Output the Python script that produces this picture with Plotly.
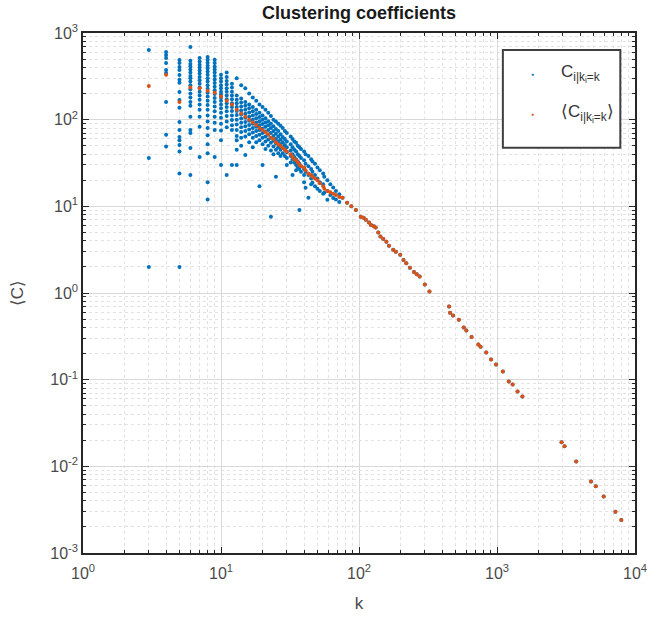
import plotly.graph_objects as go

# Per-node clustering values, grouped by degree k
blue_k = [
    3, 3, 3,
    4, 4, 4, 4, 4, 4, 4, 4, 4,
    5, 5, 5, 5, 5, 5, 5, 5, 5, 5, 5, 5, 5, 5, 5, 5, 5, 5,
    6, 6, 6, 6, 6, 6, 6, 6, 6, 6, 6, 6, 6, 6, 6, 6, 6, 6, 6, 6,
    7, 7, 7, 7, 7, 7, 7, 7, 7, 7, 7, 7, 7, 7, 7, 7, 7, 7,
    8, 8, 8, 8, 8, 8, 8, 8, 8, 8, 8, 8, 8, 8, 8, 8, 8, 8, 8, 8, 8, 8, 8, 8,
    9, 9, 9, 9, 9, 9, 9, 9, 9, 9, 9, 9, 9, 9, 9, 9, 9, 9, 9,
    10, 10, 10, 10, 10, 10, 10, 10, 10, 10, 10, 10, 10, 10, 10, 10, 10,
    11, 11, 11, 11, 11, 11, 11, 11, 11, 11, 11, 11, 11, 11, 11,
    12, 12, 12, 12, 12, 12, 12, 12, 12, 12, 12, 12, 12,
    13, 13, 13, 13, 13, 13, 13, 13, 13, 13, 13, 13, 13, 13,
    14, 14, 14, 14, 14, 14, 14, 14, 14, 14, 14, 14,
    15, 15, 15, 15, 15, 15, 15, 15, 15, 15, 15,
    16, 16, 16, 16, 16, 16, 16, 16, 16, 16,
    17, 17, 17, 17, 17, 17, 17, 17, 17, 17,
    18, 18, 18, 18, 18, 18, 18, 18, 18,
    19, 19, 19, 19, 19, 19, 19, 19, 19,
    20, 20, 20, 20, 20, 20, 20, 20, 20,
    21, 21, 21, 21, 21, 21, 21, 21,
    22, 22, 22, 22, 22, 22, 22,
    23, 23, 23, 23, 23, 23, 23, 23,
    24, 24, 24, 24, 24, 24, 24,
    25, 25, 25, 25, 25, 25, 25,
    26, 26, 26, 26, 26, 26,
    27, 27, 27, 27, 27, 27,
    28, 28, 28, 28, 28,
    29, 29, 29, 29, 29,
    30, 30, 30, 30, 30, 30,
    32, 32, 32, 32, 32,
    33, 33, 33, 33, 33,
    34, 34, 34, 34,
    35, 35, 35, 35, 35,
    36, 36, 36, 36,
    37, 37, 37, 37, 37,
    38, 38, 38, 38,
    40, 40, 40, 40, 40,
    41, 41, 41, 41,
    43, 43, 43, 43,
    45, 45, 45, 45,
    46, 46, 46,
    48, 48, 48,
    50, 50, 50,
    52, 52, 52,
    55, 55, 55,
    56, 56,
    59, 59, 59,
    62, 62,
    65, 65,
    68, 68,
    72, 72,
]
blue_c = [
    637, 36, 2,
    604, 559, 515, 451, 375, 346, 160, 67, 49,
    489, 451, 406, 375, 328, 288, 266, 209, 169, 137, 94, 76, 63, 58, 51, 43, 24, 2,
    690, 480, 440, 410, 380, 350, 320, 300, 275, 250, 225, 200, 180, 160, 145, 108, 76, 70, 47, 23,
    515, 470, 430, 400, 370, 340, 310, 285, 260, 235, 210, 190, 170, 150, 130, 108, 83, 37,
    530, 490, 455, 420, 390, 360, 330, 300, 275, 250, 228, 205, 185, 165, 148, 130, 112, 95, 80, 66, 52, 41, 19, 12,
    490, 450, 410, 380, 350, 320, 290, 265, 240, 218, 198, 178, 160, 142, 125, 108, 92, 76, 37,
    330, 300, 275, 250, 230, 210, 195, 180, 165, 150, 135, 120, 105, 90, 75, 58, 30,
    350, 310, 280, 255, 230, 210, 190, 172, 155, 140, 125, 110, 95, 82, 23,
    260, 235, 210, 190, 172, 155, 140, 126, 112, 99, 86, 76, 30,
    300, 190, 170, 155, 140, 126, 113, 100, 88, 76, 65, 58, 45, 30,
    250, 175, 158, 142, 128, 115, 103, 92, 82, 72, 62, 50,
    230, 160, 145, 130, 117, 105, 94, 84, 74, 64, 39,
    200, 150, 135, 121, 108, 97, 87, 77, 68, 55,
    180, 140, 125, 112, 100, 90, 80, 71, 62, 48,
    165, 130, 116, 104, 93, 83, 74, 65, 55,
    150, 120, 107, 96, 86, 76, 67, 58, 17,
    140, 112, 100, 89, 79, 70, 62, 52, 30,
    130, 104, 93, 83, 73, 64, 56, 46,
    120, 96, 86, 76, 67, 59, 50,
    110, 90, 80, 70, 62, 54, 44, 7.6,
    100, 84, 74, 65, 57, 49, 40,
    95, 78, 69, 60, 53, 45, 22,
    90, 74, 64, 56, 48, 41,
    85, 68, 59, 52, 45, 38,
    80, 63, 55, 48, 41,
    74, 60, 51, 45, 38,
    70, 56, 48, 42, 36, 30,
    64, 52, 44, 38, 32,
    60, 48, 40, 35, 23,
    56, 45, 37, 32,
    54, 43, 35, 30, 26,
    50, 40, 33, 28,
    48, 38, 31, 27, 9.1,
    46, 36, 29, 25,
    43, 34, 27, 23, 19,
    40, 31, 25, 16.4,
    38, 29, 23, 12.6,
    35, 27, 21, 18,
    33, 25, 18.7,
    31, 23, 17,
    28, 21, 16,
    26, 19, 15,
    24, 18, 14,
    22, 14.3,
    20, 15, 11.9,
    18, 13.5,
    16.5, 12.5,
    15, 12,
    13.8, 11.2,
]

# Mean clustering per degree in the crowded low-k range
mean_k = [3, 4, 5, 6, 7, 8, 9, 10, 11, 12, 13, 14, 15, 16, 17, 18, 19, 20,
          21, 22, 23, 24, 25, 26, 27, 28, 29, 30, 32, 33, 34, 35, 36, 37, 38,
          40, 41, 43, 45, 46, 48, 50, 52, 55, 56, 59, 62, 65, 68, 72]
mean_c = [245, 330, 160, 235, 230, 215, 205, 185, 165, 150, 130, 118, 108, 100, 93, 87, 80, 76,
          72, 68, 62, 60, 55, 52, 50, 47, 45, 43, 40, 37, 35, 34, 32, 30, 29,
          28, 26, 24, 23, 22, 21, 20, 18.5, 17, 16, 15, 14.5, 14, 13.5, 12.8]

# High-degree nodes: one node per degree, so node value and mean coincide
tail_k = [76, 82, 88, 95, 103, 108, 112, 118, 122, 128, 132, 138, 143, 150, 158, 165,
          177, 185, 199, 210, 220, 234, 250, 262, 275, 300, 324, 449, 457, 480, 529,
          574, 600, 654, 733, 760, 836, 906, 984, 1103, 1217, 1298, 1409, 1528,
          2938, 3085, 3750, 4800, 5200, 5930, 7215, 7960]
tail_c = [12.6, 11.0, 10.0, 9.1, 7.6, 7.4, 7.0, 6.5, 6.1, 5.9, 5.7, 5.0, 4.5, 4.2, 3.9, 3.5,
          3.16, 3.0, 2.77, 2.4, 2.2, 1.96, 1.75, 1.65, 1.55, 1.25, 1.04, 0.70, 0.59, 0.55, 0.49,
          0.40, 0.37, 0.31, 0.255, 0.24, 0.206, 0.171, 0.150, 0.124, 0.095, 0.088, 0.073, 0.064,
          0.0189, 0.0170, 0.0114, 0.0067, 0.0059, 0.0045, 0.0030, 0.0024]

x_tick_vals = [1, 10, 100, 1000, 10000]
x_tick_text = ["10<sup>0</sup>", "10<sup>1</sup>", "10<sup>2</sup>", "10<sup>3</sup>", "10<sup>4</sup>"]
y_tick_vals = [0.001, 0.01, 0.1, 1, 10, 100, 1000]
y_tick_text = ["10<sup>-3</sup>", "10<sup>-2</sup>", "10<sup>-1</sup>", "10<sup>0</sup>",
               "10<sup>1</sup>", "10<sup>2</sup>", "10<sup>3</sup>"]

BLUE = "#0072BD"
ORANGE = "#D95319"
AXIS = "#262626"
FONT = "Liberation Sans, Arial, Helvetica, sans-serif"

fig = go.Figure()
fig.add_trace(go.Scatter(
    x=blue_k + tail_k, y=blue_c + tail_c, mode="markers",
    marker=dict(color=BLUE, size=4, line=dict(width=0)),
    showlegend=False,
))
fig.add_trace(go.Scatter(
    x=mean_k + tail_k, y=mean_c + tail_c, mode="markers",
    marker=dict(color=ORANGE, size=4, line=dict(width=0)),
    showlegend=False,
))


def minor_vals(lo, hi):
    return [m * 10.0 ** e for e in range(lo, hi) for m in range(2, 10)]


axis_common = dict(
    type="log",
    ticks="inside", ticklen=6, tickwidth=1, tickcolor=AXIS,
    showline=True, linecolor=AXIS, linewidth=1.5, mirror="ticks",
    showgrid=True, gridcolor="#d9d9d9", gridwidth=1,
    zeroline=False,
    tickfont=dict(size=16, color="#4a4a4a", family=FONT),
)

fig.update_xaxes(
    range=[0, 4], tickmode="array", tickvals=x_tick_vals, ticktext=x_tick_text,
    ticklabelstandoff=5,
    minor=dict(tickmode="array", tickvals=minor_vals(0, 4), ticks="inside", ticklen=3,
               tickcolor=AXIS, showgrid=True, gridcolor="#e2e2e2", griddash="dot"),
    title=dict(text="k", font=dict(size=17, color="#4a4a4a", family=FONT), standoff=16),
    **axis_common,
)
fig.update_yaxes(
    range=[-3, 3], tickmode="array", tickvals=y_tick_vals, ticktext=y_tick_text,
    minor=dict(tickmode="array", tickvals=minor_vals(-3, 3), ticks="inside", ticklen=3,
               tickcolor=AXIS, showgrid=True, gridcolor="#e2e2e2", griddash="dot"),
    title=dict(text="⟨C⟩", font=dict(size=17, color="#4a4a4a", family=FONT), standoff=22),
    **axis_common,
)

# Legend box drawn by hand (MATLAB style)
L, T, W, H = 83.0, 33.0, 564.0, 521.0


def px(x):
    return (x - L) / W


def py(y):
    return (T + H - y) / H


fig.add_shape(type="rect", xref="paper", yref="paper",
              x0=px(512), x1=px(632), y0=py(148), y1=py(50),
              line=dict(color="#404040", width=2), fillcolor="white", layer="above")

legend_rows = [
    (BLUE, "C<sub>i|k<sub>i</sub>=k</sub>", 74),
    (ORANGE, "⟨C<sub>i|k<sub>i</sub>=k</sub>⟩", 114),
]
for color, label, row_y in legend_rows:
    fig.add_annotation(xref="paper", yref="paper", x=px(542), y=py(row_y),
                       text="●", showarrow=False, xanchor="center", yanchor="middle",
                       font=dict(size=5, color=color))
    fig.add_annotation(xref="paper", yref="paper", x=px(569), y=py(row_y),
                       text=label, showarrow=False, xanchor="left", yanchor="middle",
                       font=dict(size=17, color="#333333", family=FONT))

fig.update_layout(
    width=659, height=622,
    margin=dict(l=83, r=12, t=33, b=68),
    paper_bgcolor="white", plot_bgcolor="white",
    font=dict(family=FONT),
    title=dict(text="<b>Clustering coefficients</b>", x=0.5, xref="paper",
               y=1 - 13 / 622, yref="container", yanchor="middle", xanchor="center",
               font=dict(size=18, color="#1a1a1a", family=FONT)),
    showlegend=False,
)

fig.write_html("out.html")
